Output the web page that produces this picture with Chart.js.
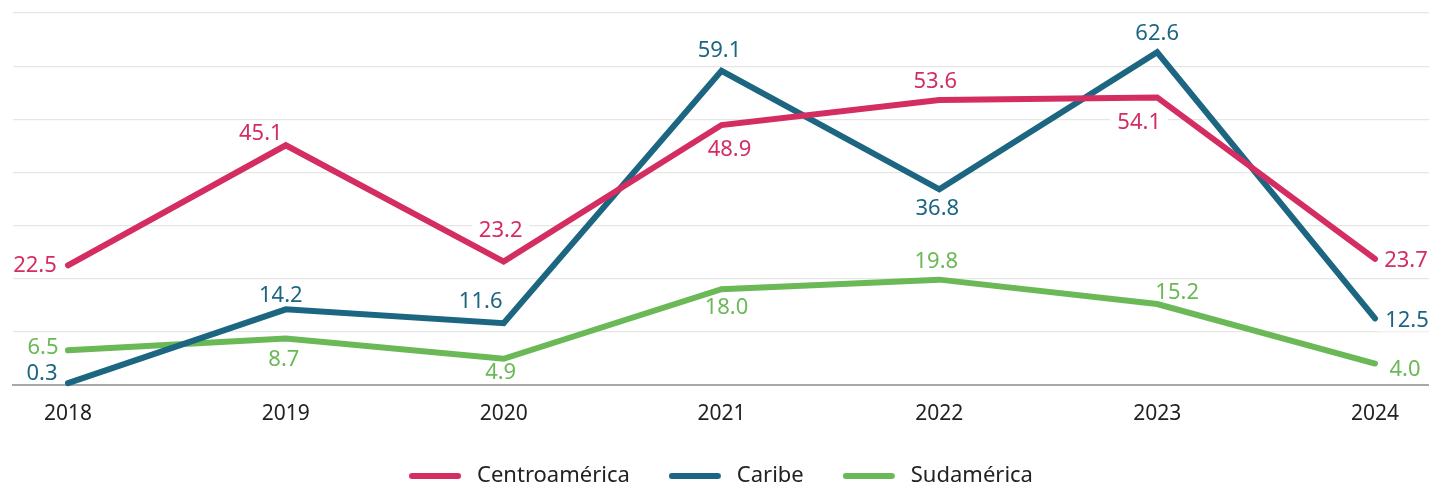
<!DOCTYPE html>
<html>
<head>
<meta charset="utf-8">
<script src="https://cdn.jsdelivr.net/npm/chart.js@4.4.1/dist/chart.umd.min.js"></script>
<style>
html,body{margin:0;padding:0;background:#fff;}
#wrap{width:1429px;height:486px;position:relative;}
</style>
</head>
<body>
<div id="wrap"><canvas id="c"></canvas></div>
<script>
const years = ['2018','2019','2020','2021','2022','2023','2024'];
const centroamerica = [22.5, 45.1, 23.2, 48.9, 53.6, 54.1, 23.7];
const caribe = [0.3, 14.2, 11.6, 59.1, 36.8, 62.6, 12.5];
const sudamerica = [6.5, 8.7, 4.9, 18.0, 19.8, 15.2, 4.0];
const seriesNames = ['Centroamérica', 'Caribe', 'Sudamérica'];

const colors = ['#D42D62', '#1C6682', '#6BB857'];
// label offsets (dx, dy) of the label centre from its point, in pixels
const labelOffsets = [
  [[-33,0],[-25,-12],[-3,-31],[8,25],[-4,-18],[-18,25],[31,2]],
  [[-26,-9],[-5,-14],[-23,-21],[-2,-20],[-2,19],[0,-19],[32,2]],
  [[-25,-3],[-2,21],[-3,14],[5,19],[-3,-18],[20,-11],[30,6]]
];

function legendLine(color){
  const cv = document.createElement('canvas');
  cv.width = 57; cv.height = 10;
  const g = cv.getContext('2d');
  g.strokeStyle = color; g.lineWidth = 6; g.lineCap = 'round';
  g.beginPath(); g.moveTo(3, 5); g.lineTo(49, 5); g.stroke();
  return cv;
}

const toPts = arr => arr.map((v,i)=>({x:i, y:v}));
const allSeries = [centroamerica, caribe, sudamerica];
const LABEL_FONT = '22px "Noto Sans"';

function eachLabel(chart, fn){
  chart.data.datasets.forEach((ds, di)=>{
    const meta = chart.getDatasetMeta(di);
    meta.data.forEach((pt, i)=>{
      const txt = allSeries[di][i].toFixed(1);
      const off = labelOffsets[di][i];
      fn(di, txt, pt.x + off[0], pt.y + off[1]);
    });
  });
}

const labelPlugin = {
  id: 'valueLabels',
  beforeDatasetsDraw(chart){
    const ctx = chart.ctx;
    ctx.save();
    ctx.font = LABEL_FONT;
    ctx.fillStyle = '#ffffff';
    eachLabel(chart, (di, txt, x, y)=>{
      const w = ctx.measureText(txt).width + 14;
      const top = y - 11;
      const bottom = Math.min(y + 11, chart.chartArea.bottom - 2);
      ctx.fillRect(x - w/2, top, w, bottom - top);
    });
    ctx.restore();
  },
  afterDatasetsDraw(chart){
    const ctx = chart.ctx;
    ctx.save();
    ctx.font = LABEL_FONT;
    ctx.textAlign = 'center';
    ctx.textBaseline = 'middle';
    eachLabel(chart, (di, txt, x, y)=>{
      ctx.fillStyle = colors[di];
      ctx.fillText(txt, x, y);
    });
    ctx.restore();
  }
};

new Chart(document.getElementById('c'), {
  type: 'line',
  data: {
    datasets: allSeries.map((arr, i)=>({
      label: seriesNames[i],
      data: toPts(arr),
      borderColor: colors[i],
      backgroundColor: colors[i],
      borderWidth: 6,
      borderCapStyle: 'round',
      borderJoinStyle: 'miter',
      pointRadius: 0,
      pointHoverRadius: 0,
      pointStyle: legendLine(colors[i]),
      tension: 0,
      clip: false
    }))
  },
  options: {
    responsive: true,
    maintainAspectRatio: false,
    animation: false,
    events: [],
    layout: { padding: { top: 13, left: 13, right: 0, bottom: -11 } },
    scales: {
      x: {
        type: 'linear',
        min: -0.2525,
        max: 6.248,
        afterBuildTicks(scale){
          scale.ticks = years.map((y,i)=>({value:i}));
        },
        afterFit(scale){ scale.height -= 10; },
        ticks: {
          callback: (v)=> years[v] !== undefined ? years[v] : '',
          font: { family: 'Noto Sans', size: 21 },
          color: '#222',
          padding: 9,
          maxRotation: 0,
          autoSkip: false
        },
        grid: { display: false },
        border: { display: true, color: '#a8a8a8', width: 2 }
      },
      y: {
        min: 0,
        max: 70,
        ticks: { display: false, stepSize: 10 },
        grid: {
          color: (c)=> c.tick && c.tick.value === 0 ? '#a8a8a8' : '#e6e6e6',
          lineWidth: 1.2,
          drawTicks: false
        },
        border: { display: false }
      }
    },
    plugins: {
      tooltip: { enabled: false },
      legend: {
        position: 'bottom',
        labels: {
          usePointStyle: true,
          pointStyleWidth: 57,
          boxHeight: 10,
          padding: 39,
          font: { family: 'Noto Sans', size: 22 },
          color: '#222'
        }
      }
    }
  },
  plugins: [labelPlugin]
});
</script>
</body>
</html>
